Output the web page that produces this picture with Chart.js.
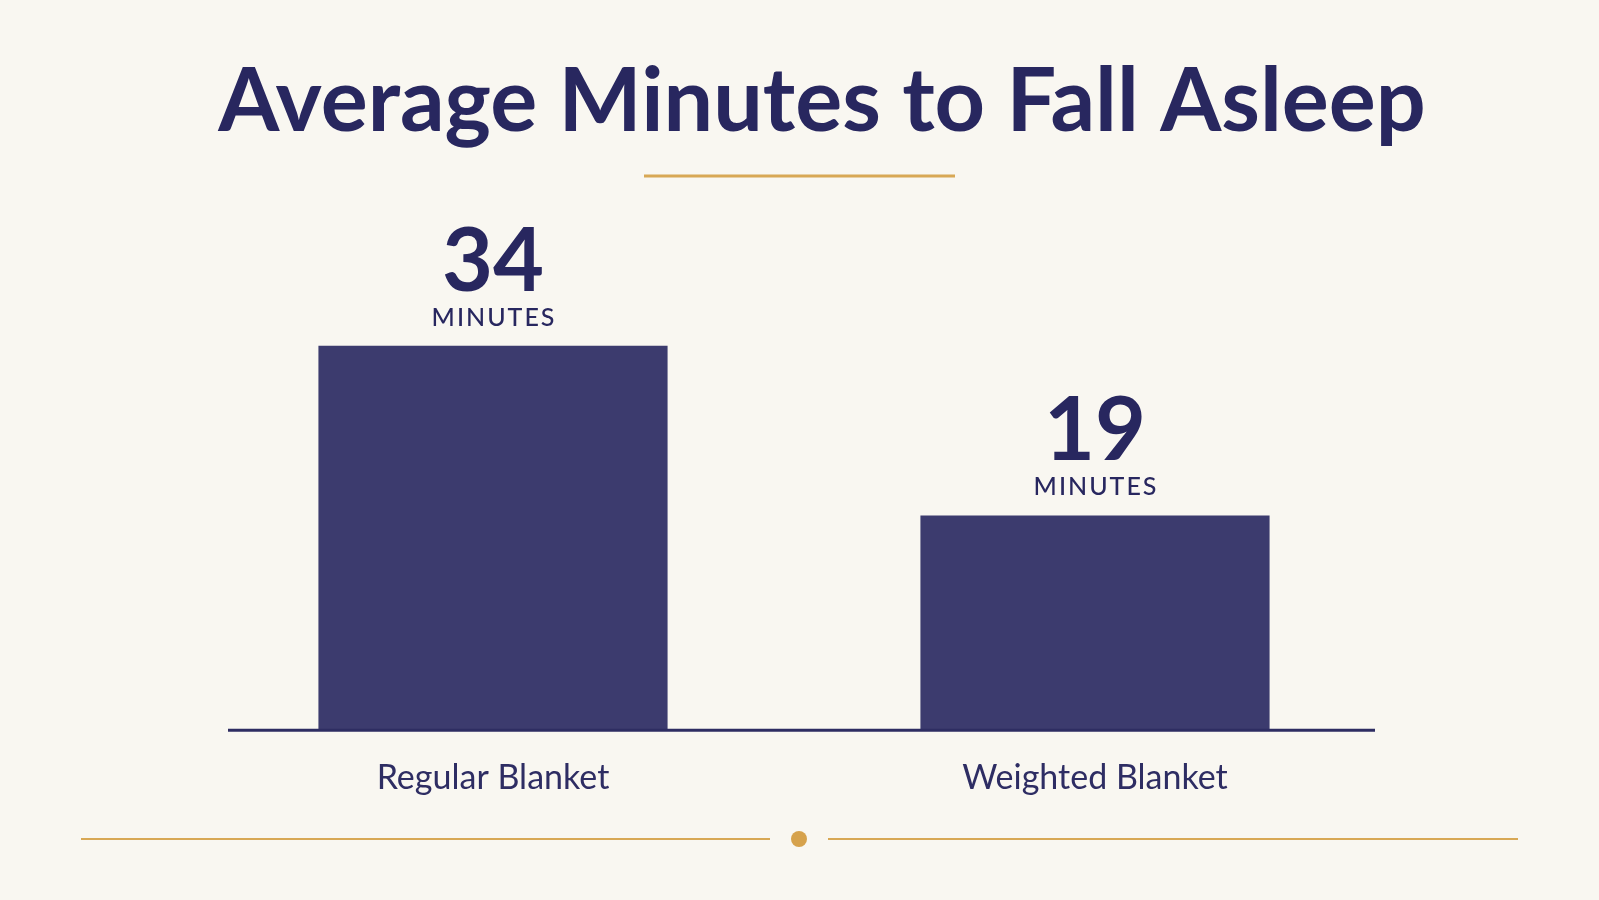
<!DOCTYPE html>
<html>
<head>
<meta charset="utf-8">
<script src="https://cdn.jsdelivr.net/npm/chart.js@4.4.1/dist/chart.umd.min.js"></script>
<style>
  html, body { margin: 0; padding: 0; background: #F9F7F1; }
  #wrap { width: 1599px; height: 900px; position: relative; }
</style>
</head>
<body>
<div id="wrap"><canvas id="chart"></canvas></div>
<script>
const chartTitle = 'Average Minutes to Fall Asleep';
const categories = ['Regular Blanket', 'Weighted Blanket'];
const minutes = [34, 19];
const unitLabel = 'MINUTES';

const NAVY = '#28275F';
const BAR = '#3C3B6E';
const GOLD = '#D8A855';

// title, gold rules, value labels and baseline
const decor = {
  id: 'decor',
  afterDatasetsDraw(chart) {
    const ctx = chart.ctx;
    const y = chart.scales.y;
    const base = y.getPixelForValue(0);

    ctx.save();
    ctx.strokeStyle = '#2E2D62';
    ctx.lineWidth = 3;
    ctx.beginPath();
    ctx.moveTo(228, base);
    ctx.lineTo(1375, base);
    ctx.stroke();

    ctx.fillStyle = NAVY;
    ctx.textAlign = 'center';
    ctx.textBaseline = 'alphabetic';
    ctx.font = '700 88px Lato, "Open Sans", sans-serif';
    ctx.fillText(chartTitle, 822, 131);

    ctx.strokeStyle = GOLD;
    ctx.lineWidth = 3;
    ctx.beginPath();
    ctx.moveTo(644, 176);
    ctx.lineTo(955, 176);
    ctx.stroke();

    const meta = chart.getDatasetMeta(0);
    meta.data.forEach((bar, i) => {
      ctx.fillStyle = NAVY;
      ctx.font = '700 88px Lato, sans-serif';
      ctx.fillText(String(minutes[i]), bar.x, bar.y - 55);
      ctx.font = '500 25px Lato, sans-serif';
      ctx.letterSpacing = '2px';
      ctx.fillText(unitLabel, bar.x + 1, bar.y - 20);
      ctx.letterSpacing = '0px';
    });

    ctx.strokeStyle = GOLD;
    ctx.lineWidth = 2;
    ctx.beginPath();
    ctx.moveTo(81, 839);
    ctx.lineTo(770, 839);
    ctx.moveTo(828, 839);
    ctx.lineTo(1518, 839);
    ctx.stroke();
    ctx.fillStyle = '#D6A24C';
    ctx.beginPath();
    ctx.arc(799, 839, 8, 0, Math.PI * 2);
    ctx.fill();
    ctx.restore();
  }
};

new Chart(document.getElementById('chart').getContext('2d'), {
  type: 'bar',
  data: {
    labels: categories,
    datasets: [{
      data: minutes,
      backgroundColor: BAR,
      borderWidth: 0,
      barPercentage: 0.58,
      categoryPercentage: 1
    }]
  },
  options: {
    responsive: true,
    maintainAspectRatio: false,
    animation: false,
    layout: { padding: { top: 278, left: 192, right: 203, bottom: 83 } },
    plugins: {
      legend: { display: false },
      tooltip: { enabled: false }
    },
    scales: {
      x: {
        grid: { display: false },
        border: { display: false },
        ticks: {
          color: '#2E2D63',
          padding: 19,
          font: { family: 'Lato, sans-serif', size: 34, weight: '400' }
        }
      },
      y: {
        display: false,
        min: 0,
        max: 40
      }
    }
  },
  plugins: [decor]
});
</script>
</body>
</html>
